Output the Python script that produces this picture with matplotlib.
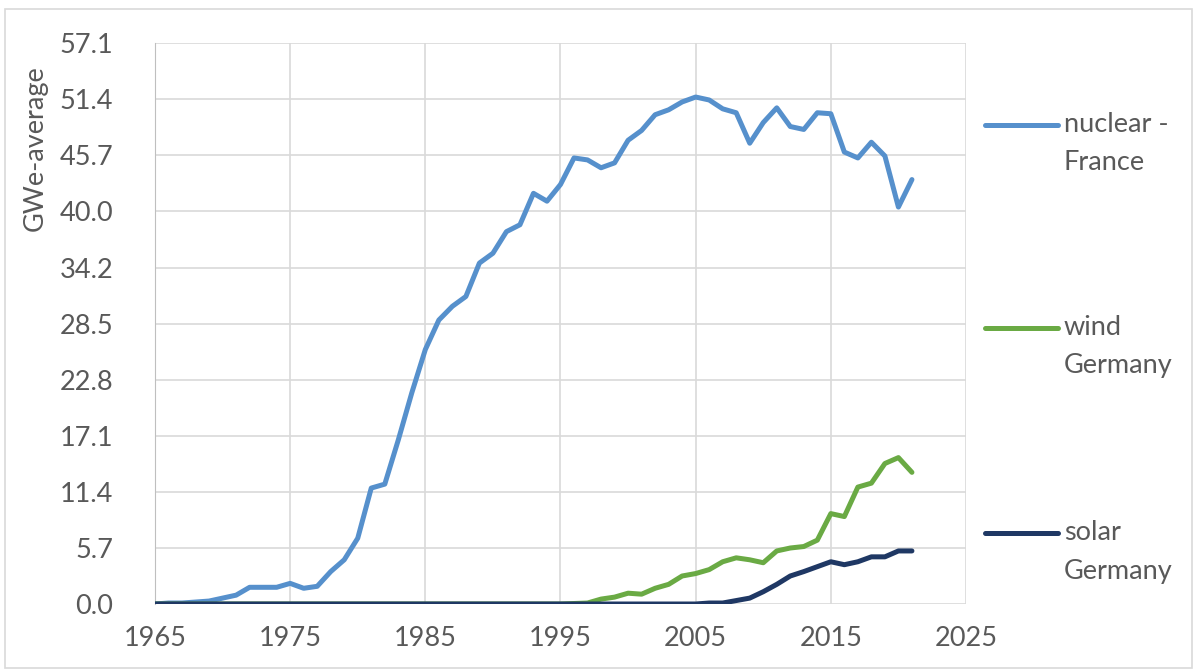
import matplotlib.pyplot as plt
import numpy as np
from matplotlib.patches import Rectangle

plt.rcParams['font.family'] = ['Lato', 'DejaVu Sans']

years = list(range(1965, 2022))

nuclear = [0.0, 0.1, 0.1, 0.2, 0.3, 0.6, 0.9, 1.7, 1.7, 1.7, 2.1, 1.6, 1.8, 3.3,
           4.5, 6.7, 11.8, 12.2, 16.7, 21.5, 25.9, 28.9, 30.3, 31.3, 34.7, 35.7,
           37.9, 38.6, 41.8, 41.0, 42.7, 45.4, 45.2, 44.4, 44.9, 47.2, 48.2, 49.8,
           50.3, 51.1, 51.6, 51.3, 50.4, 50.0, 46.9, 49.0, 50.5, 48.6, 48.3, 50.0,
           49.9, 46.0, 45.4, 47.0, 45.6, 40.4, 43.2]

wind = [0.0] * 30 + [0.0, 0.05, 0.1, 0.5, 0.7, 1.1, 1.0, 1.6, 2.0, 2.85, 3.1, 3.5,
                     4.3, 4.7, 4.5, 4.2, 5.4, 5.7, 5.85, 6.5, 9.2, 8.9, 11.9, 12.3,
                     14.3, 14.9, 13.4]

solar = [0.0] * 41 + [0.1, 0.1, 0.35, 0.6, 1.25, 2.0, 2.85, 3.3, 3.8, 4.3, 4.0,
                      4.3, 4.8, 4.8, 5.4, 5.4]

labels = [('nuclear -', 'France'), ('wind', 'Germany'), ('solar', 'Germany')]
colors = ['#5690cc', '#6aaa44', '#1f3864']
yticks = [0.0, 5.7, 11.4, 17.1, 22.8, 28.5, 34.2, 40.0, 45.7, 51.4, 57.1]
xticks = [1965, 1975, 1985, 1995, 2005, 2015, 2025]

text_col = '#595959'
FS = 19.5
LW = 3.6

fig = plt.figure(figsize=(11.95, 6.7), dpi=100)
# outer chart border
fig.patches.append(Rectangle((5 / 1195, 2 / 670), 1187 / 1195, 659 / 670,
                             transform=fig.transFigure, fill=False,
                             edgecolor='#d9d9d9', linewidth=1.2))

ax = fig.add_axes([155 / 1195, 1 - 604 / 670, 811 / 1195, 561 / 670])

for series, col in zip([nuclear, wind, solar], colors):
    ax.plot(years, series, color=col, linewidth=LW, solid_capstyle='round',
            solid_joinstyle='round', zorder=3)

ax.set_xlim(1965, 2025)
ax.set_ylim(0, 57.1)
ax.set_xticks(xticks)
ax.set_yticks(yticks)
ax.set_yticklabels(['%.1f' % v for v in yticks])
ax.grid(True, color='#d9d9d9', linewidth=1.2)
ax.set_axisbelow(True)
for side in ['top', 'right', 'bottom']:
    ax.spines[side].set_visible(False)
ax.spines['left'].set_color('#bfbfbf')
ax.tick_params(length=0, labelsize=FS, colors=text_col)
ax.tick_params(axis='y', pad=30)
ax.tick_params(axis='x', pad=16)

fig.text(35 / 1195, 1 - 148 / 670, 'GWe-average', rotation=90, ha='center',
         va='center', fontsize=FS, color=text_col)

# legend at the right, spread out like the original
leg_y = [125, 328, 533]
for (l1, l2), col, yy in zip(labels, colors, leg_y):
    yf = 1 - yy / 670
    fig.add_artist(plt.Line2D([985 / 1195, 1058 / 1195], [yf, yf], color=col,
                              linewidth=LW, solid_capstyle='round',
                              transform=fig.transFigure))
    fig.text(1064 / 1195, yf, l1, ha='left', va='center', fontsize=FS,
             color=text_col)
    fig.text(1064 / 1195, yf - 38 / 670, l2, ha='left', va='center', fontsize=FS,
             color=text_col)

fig.savefig('out.png', dpi=100)
